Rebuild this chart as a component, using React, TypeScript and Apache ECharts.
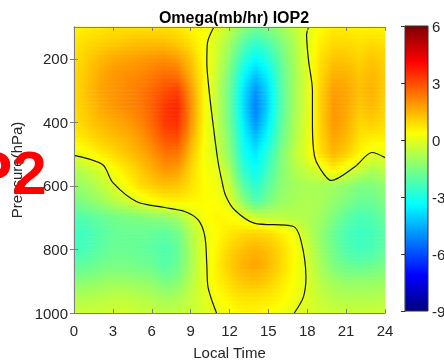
import React, { useEffect, useRef } from "react";
import * as echarts from "echarts";

// Local time (hours) columns and pressure (hPa) rows of the omega field
const times = [0, 1, 2, 3, 4, 5, 6, 7, 8, 9, 10, 11, 12, 13, 14, 15, 16, 17, 18, 19, 20, 21, 22, 23, 24];
const pressures = [100, 150, 200, 250, 300, 350, 400, 450, 500, 550, 600, 650, 700, 750, 800, 850, 900, 950, 1000];

const omega100 = [0.5, 0.6, 0.7, 0.8, 0.8, 0.8, 0.8, 0.8, 0.7, 0.5, 0.3, 0.05, -0.5, -1.2, -1.6, -1.4, -1.0, -0.5, -0.05, 0.4, 0.6, 0.6, 0.5, 0.5, 0.5];
const omega150 = [0.7, 0.9, 1.0, 1.1, 1.2, 1.3, 1.3, 1.3, 1.1, 0.8, 0.3, -0.2, -1.0, -2.0, -2.6, -2.2, -1.5, -0.8, -0.05, 0.6, 0.9, 0.9, 0.8, 0.9, 0.8];
const omega200 = [0.8, 1.1, 1.4, 1.6, 1.7, 1.8, 1.9, 2.0, 1.8, 1.2, 0.4, -0.3, -1.3, -2.6, -3.4, -2.8, -1.8, -0.9, -0.05, 0.8, 1.2, 1.2, 1.0, 1.2, 1.0];
const omega250 = [0.9, 1.2, 1.6, 1.9, 2.0, 2.1, 2.3, 2.5, 2.4, 1.5, 0.5, -0.4, -1.6, -3.2, -4.2, -3.4, -2.0, -1.0, -0.1, 0.9, 1.5, 1.5, 1.2, 1.4, 1.1];
const omega300 = [0.9, 1.3, 1.7, 1.9, 2.1, 2.3, 2.6, 3.0, 3.2, 1.9, 0.5, -0.5, -1.8, -3.6, -5.0, -3.8, -2.1, -1.0, -0.1, 1.0, 1.8, 1.7, 1.3, 1.5, 1.1];
const omega350 = [0.9, 1.2, 1.6, 1.9, 2.1, 2.3, 2.7, 3.3, 3.6, 2.1, 0.5, -0.5, -1.8, -3.7, -5.3, -3.9, -2.1, -1.0, -0.1, 1.0, 1.9, 1.7, 1.2, 1.4, 1.0];
const omega400 = [0.8, 1.1, 1.4, 1.6, 1.8, 2.1, 2.6, 3.3, 3.5, 2.0, 0.5, -0.5, -1.7, -3.5, -5.0, -3.6, -2.0, -0.9, -0.05, 1.0, 1.9, 1.6, 1.0, 1.1, 0.9];
const omega450 = [0.6, 0.8, 1.1, 1.3, 1.5, 1.8, 2.3, 2.9, 3.0, 1.7, 0.4, -0.4, -1.5, -3.2, -4.3, -3.2, -1.8, -0.8, 0.0, 0.9, 1.7, 1.4, 0.8, 0.6, 0.6];
const omega500 = [0.0, 0.3, 0.6, 0.9, 1.2, 1.5, 1.9, 2.4, 2.4, 1.3, 0.3, -0.3, -1.3, -3.0, -3.7, -2.7, -1.5, -0.6, 0.05, 0.8, 1.4, 1.1, 0.5, 0.1, 0.05];
const omega550 = [-0.8, -0.5, -0.2, 0.3, 0.7, 1.1, 1.5, 1.9, 1.8, 1.0, 0.3, 0.1, -0.9, -2.6, -3.3, -2.4, -1.4, -0.8, -0.4, -0.05, 0.6, 0.05, -0.4, -0.8, -0.6];
const omega600 = [-1.2, -1.0, -0.6, -0.15, 0.3, 0.8, 1.1, 1.3, 1.2, 0.8, 0.4, 0.2, -0.4, -2.0, -2.8, -2.0, -1.3, -1.0, -0.9, -0.9, -1.0, -1.2, -1.5, -1.5, -1.2];
const omega650 = [-1.6, -1.4, -1.1, -0.7, -0.4, -0.05, 0.3, 0.5, 0.6, 0.5, 0.4, 0.3, 0.0, -1.2, -2.2, -1.6, -1.1, -0.9, -0.8, -0.9, -1.2, -1.5, -1.8, -1.8, -1.5];
const omega700 = [-2.2, -2.1, -1.9, -1.7, -1.6, -1.5, -1.4, -1.3, -1.0, -0.3, 0.3, 0.5, 0.4, 0.1, -0.3, -0.5, -0.6, -0.7, -0.8, -1.0, -1.5, -2.0, -2.3, -2.2, -1.8];
const omega750 = [-2.5, -2.4, -2.1, -1.9, -1.8, -1.8, -1.9, -2.0, -1.7, -0.8, -0.05, 0.4, 0.7, 0.9, 1.0, 0.9, 0.6, 0.2, -0.6, -1.2, -1.8, -2.3, -2.5, -2.4, -2.0];
const omega800 = [-2.4, -2.3, -2.0, -1.8, -1.8, -1.9, -2.0, -2.2, -1.9, -0.9, -0.05, 0.5, 1.0, 1.3, 1.5, 1.3, 0.9, 0.4, -0.3, -1.1, -1.7, -2.2, -2.4, -2.3, -1.9];
const omega850 = [-2.0, -1.9, -1.7, -1.6, -1.6, -1.7, -1.8, -2.1, -1.8, -0.9, -0.05, 0.6, 1.1, 1.5, 1.7, 1.4, 0.9, 0.4, -0.2, -0.9, -1.5, -1.8, -1.9, -1.8, -1.6];
const omega900 = [-1.4, -1.3, -1.2, -1.1, -1.1, -1.2, -1.3, -1.6, -1.4, -0.7, -0.05, 0.5, 0.9, 1.2, 1.3, 1.1, 0.7, 0.3, -0.1, -0.7, -1.0, -1.2, -1.2, -1.2, -1.1];
const omega950 = [-0.8, -0.8, -0.7, -0.6, -0.6, -0.7, -0.8, -1.0, -0.9, -0.5, -0.1, 0.3, 0.6, 0.8, 0.8, 0.7, 0.5, 0.2, -0.1, -0.5, -0.7, -0.8, -0.8, -0.8, -0.7];
const omega1000 = [-0.4, -0.4, -0.4, -0.3, -0.3, -0.4, -0.5, -0.6, -0.5, -0.4, -0.2, 0.0, 0.3, 0.5, 0.5, 0.4, 0.2, -0.05, -0.2, -0.3, -0.4, -0.4, -0.4, -0.4, -0.4];

const omegaRows = [omega100, omega150, omega200, omega250, omega300, omega350, omega400, omega450, omega500, omega550,
  omega600, omega650, omega700, omega750, omega800, omega850, omega900, omega950, omega1000];

// Zero contour lines as [local time, pressure]
const contourLowerLeft = [[0, 504], [2.2, 533], [3.0, 590], [4.85, 650], [7.0, 668], [8.5, 680], [9.6, 708], [10.1, 760], [10.25, 850], [10.35, 920], [11.0, 1000]];
const contourMiddle = [[10.8, 100], [10.3, 150], [10.25, 210], [10.4, 290], [10.7, 395], [11.1, 520], [11.4, 582], [11.7, 630], [12.4, 676], [13.9, 717], [16.9, 727], [17.5, 770], [17.9, 887], [17.7, 950], [17.0, 1000]];
const contourRight = [[18.1, 100], [17.95, 125], [18.1, 206], [18.4, 300], [18.4, 410], [18.55, 505], [18.95, 543], [19.85, 583], [21.7, 539], [23.0, 495], [24, 511]];

const xTicks = [0, 3, 6, 9, 12, 15, 18, 21, 24];
const yTicks = [200, 400, 600, 800, 1000];
const colorbarTicks = [-9, -6, -3, 0, 3, 6];
const colorMin = -9;
const colorMax = 6;

const jet = ["#00007f", "#0000ff", "#007fff", "#00ffff", "#7fff7f", "#ffff00", "#ff7f00", "#ff0000", "#7f0000"];
const FONT = '"Liberation Sans", Arial, Helvetica, sans-serif';
const AXIS_GREY = "#7f7f7f";
const LABEL = "#262626";

const jetColor = (v: number) => {
  const f = Math.max(0, Math.min(1, (v - colorMin) / (colorMax - colorMin)));
  return echarts.color.lerp(f, jet) as string;
};

export default function App() {
  const ref = useRef<HTMLDivElement>(null);
  useEffect(() => {
    const chart = echarts.init(ref.current!, null, { renderer: "svg" });
    const heat: number[][] = [];
    pressures.forEach((p, i) => {
      times.forEach((t, j) => {
        heat.push([t, p, omegaRows[i][j], j, i]);
      });
    });
    const lineSeries = (data: number[][]) => ({
      type: "line",
      xAxisIndex: 0,
      yAxisIndex: 0,
      data,
      showSymbol: false,
      smooth: 0.3,
      clip: true,
      z: 5,
      lineStyle: { color: "#151515", width: 1.2 },
    });
    const plain = (v: number) => String(v);
    const STRIPS = 4;
    const STOPS = 4;
    const option: any = {
      animation: false,
      textStyle: { fontFamily: FONT },
      title: {
        text: "Omega(mb/hr) IOP2",
        left: 229,
        textAlign: "center",
        top: 4,
        textStyle: { fontSize: 16, fontWeight: "bold", color: "#000", fontFamily: FONT },
      },
      grid: [
        { left: 74, right: 59, top: 27, bottom: 47, outerBoundsMode: "none", containLabel: false },
        { left: 405, top: 26, width: 23, height: 285, outerBoundsMode: "none", containLabel: false },
      ],
      xAxis: [
        {
          type: "value", gridIndex: 0, min: 0, max: 24, interval: 3, position: "bottom", z: 10,
          axisLine: { show: true, lineStyle: { color: AXIS_GREY } },
          axisTick: { show: true, inside: true, length: 4, lineStyle: { color: AXIS_GREY }, customValues: xTicks },
          axisLabel: { fontSize: 15, color: LABEL, margin: 10, customValues: xTicks, formatter: plain },
          splitLine: { show: false },
          name: "Local Time", nameLocation: "middle", nameGap: 32,
          nameTextStyle: { fontSize: 15, color: LABEL },
        },
        {
          type: "value", gridIndex: 0, min: 0, max: 24, interval: 3, position: "top", z: 10,
          axisLine: { show: true, lineStyle: { color: AXIS_GREY } },
          axisTick: { show: true, inside: true, length: 4, lineStyle: { color: AXIS_GREY } },
          axisLabel: { show: false },
          splitLine: { show: false },
        },
        { type: "value", gridIndex: 1, min: 0, max: 1, show: false },
      ],
      yAxis: [
        {
          type: "value", gridIndex: 0, min: 100, max: 1000, inverse: true, position: "left", z: 10,
          axisLine: { show: true, lineStyle: { color: AXIS_GREY } },
          axisTick: { show: true, inside: true, length: 4, lineStyle: { color: AXIS_GREY }, customValues: yTicks },
          axisLabel: { fontSize: 15, color: LABEL, margin: 6, customValues: yTicks, formatter: plain },
          splitLine: { show: false },
          name: "Pressure(hPa)", nameLocation: "middle", nameGap: 41,
          nameTextStyle: { fontSize: 15, color: LABEL },
        },
        {
          type: "value", gridIndex: 0, min: 100, max: 1000, inverse: true, position: "right", z: 10,
          axisLine: { show: true, lineStyle: { color: AXIS_GREY } },
          axisTick: { show: true, inside: true, length: 4, lineStyle: { color: AXIS_GREY }, customValues: yTicks },
          axisLabel: { show: false, customValues: yTicks },
          splitLine: { show: false },
        },
        {
          type: "value", gridIndex: 1, min: colorMin, max: colorMax, interval: 3, position: "right", z: 10,
          axisLine: { show: true, lineStyle: { color: "#333" } },
          axisTick: { show: true, inside: true, length: 4, lineStyle: { color: "#333" }, customValues: colorbarTicks },
          axisLabel: { fontSize: 15, color: LABEL, margin: 4, customValues: colorbarTicks, formatter: plain },
          splitLine: { show: false },
        },
      ],
      graphic: [
        {
          type: "rect", z: 1,
          shape: { x: 405, y: 26, width: 23, height: 285 },
          style: {
            fill: new echarts.graphic.LinearGradient(0, 1, 0, 0,
              jet.map((c, i) => ({ offset: i / (jet.length - 1), color: c }))),
            stroke: "#333", lineWidth: 1,
          },
        },
        {
          type: "text", z: 20, x: -29, y: 172,
          style: {
            text: "P2", fontSize: 62, fontWeight: "bold", fontFamily: FONT, fill: "#ff0000",
            verticalAlign: "middle", shadowColor: "rgba(0,0,0,0.35)", shadowBlur: 3, shadowOffsetX: 2, shadowOffsetY: 2,
          },
        },
      ],
      series: [
        {
          type: "custom",
          xAxisIndex: 0,
          yAxisIndex: 0,
          data: heat,
          encode: { x: 0, y: 1 },
          z: 1,
          renderItem: (params: any, api: any) => {
            const j = api.value(3);
            const i = api.value(4);
            if (j >= times.length - 1 || i >= pressures.length - 1) return null;
            const v00 = omegaRows[i][j];
            const v01 = omegaRows[i][j + 1];
            const v10 = omegaRows[i + 1][j];
            const v11 = omegaRows[i + 1][j + 1];
            const tl = api.coord([times[j], pressures[i]]);
            const br = api.coord([times[j + 1], pressures[i + 1]]);
            const w = br[0] - tl[0];
            const h = (br[1] - tl[1]) / STRIPS;
            const children: any[] = [];
            for (let k = 0; k < STRIPS; k++) {
              const f = (k + 0.5) / STRIPS;
              const vl = v00 + (v10 - v00) * f;
              const vr = v01 + (v11 - v01) * f;
              const stops = [];
              for (let s = 0; s < STOPS; s++) {
                const g = s / (STOPS - 1);
                stops.push({ offset: g, color: jetColor(vl + (vr - vl) * g) });
              }
              children.push({
                type: "rect",
                shape: { x: tl[0] - 0.3, y: tl[1] + h * k - 0.3, width: w + 0.6, height: h + 0.6 },
                style: { fill: new echarts.graphic.LinearGradient(0, 0, 1, 0, stops) },
              });
            }
            return { type: "group", children };
          },
        },
        lineSeries(contourLowerLeft),
        lineSeries(contourMiddle),
        lineSeries(contourRight),
      ],
    };
    chart.setOption(option);
    return () => chart.dispose();
  }, []);
  return <div ref={ref} style={{ position: "fixed", left: 0, top: 0, width: 444, height: 360 }} />;
}
